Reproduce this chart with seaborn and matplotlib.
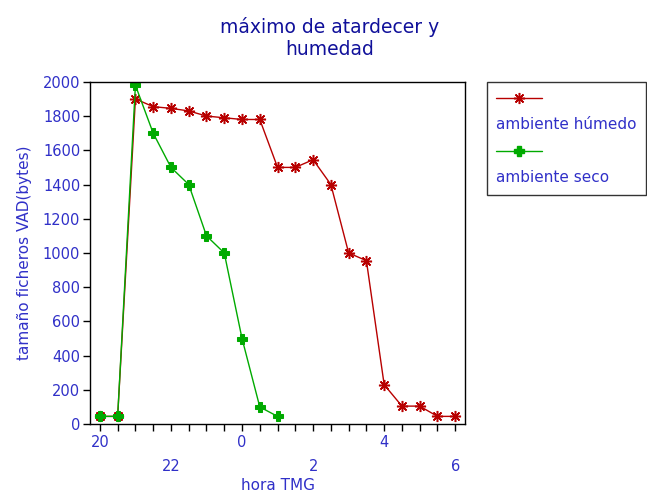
import numpy as np
import pandas as pd
import seaborn as sns
import matplotlib.pyplot as plt
from matplotlib.lines import Line2D

# Data (hours after 20:00 continue past 24)
hours = [20, 20.5, 21, 21.5, 22, 22.5, 23, 23.5, 24, 24.5, 25,
         25.5, 26, 26.5, 27, 27.5, 28, 28.5, 29, 29.5, 30]
humedo = [45, 45, 1900, 1855, 1845, 1830, 1800, 1790, 1780, 1780, 1500,
          1500, 1545, 1400, 1000, 955, 230, 105, 105, 45, 45]
seco_hours = [20, 20.5, 21, 21.5, 22, 22.5, 23, 23.5, 24, 24.5, 25]
seco = [45, 45, 1980, 1700, 1500, 1400, 1100, 1000, 500, 100, 45]
tick_hours = [20, 22, 24, 26, 28, 30]

df_h = pd.DataFrame({'hora': hours, 'bytes': humedo})
df_s = pd.DataFrame({'hora': seco_hours, 'bytes': seco})

sns.set_theme(style='ticks')
plt.rcParams['font.family'] = ['DejaVu Sans']

text_blue = '#3030c8'
title_blue = '#10109a'
red = '#b80000'
green = '#00aa00'
ast = (8, 2, 0)

fig = plt.figure(figsize=(6.47, 4.96), dpi=100)
ax = fig.add_axes([0.139, 0.145, 0.580, 0.690])

sns.lineplot(data=df_h, x='hora', y='bytes', ax=ax, color=red, lw=1.0,
             marker=ast, markersize=8, markeredgecolor=red,
             markeredgewidth=1.1, dashes=False)
sns.lineplot(data=df_s, x='hora', y='bytes', ax=ax, color=green, lw=1.0,
             marker='P', markersize=7, markeredgecolor=green,
             markerfacecolor=green, dashes=False)

ax.set_xlim(19.72, 30.28)
ax.set_ylim(0, 2000)
ax.set_yticks(np.arange(0, 2001, 200))
xt = np.arange(20, 30.01, 0.5)
ax.set_xticks(xt)
labels = []
for h in xt:
    if h in tick_hours:
        lab = str(int(h) % 24)
        if tick_hours.index(h) % 2 == 1:
            lab = '\n' + lab
        labels.append(lab)
    else:
        labels.append('')
ax.set_xticklabels(labels)
ax.tick_params(axis='both', colors='black', labelcolor=text_blue,
               length=5, width=1, labelsize=10.5, direction='out')
ax.tick_params(axis='x', pad=3)
ax.tick_params(axis='y', pad=2)
for t in ax.get_xticklabels():
    t.set_linespacing(1.75)
for s in ax.spines.values():
    s.set_visible(True)
    s.set_color('black')
    s.set_linewidth(1.0)

ax.set_xlabel('hora TMG', color=text_blue, fontsize=11, labelpad=3)
ax.set_ylabel('tamaño ficheros VAD(bytes)', color=text_blue, fontsize=11,
              labelpad=8)
fig.suptitle('máximo de atardecer y\nhumedad', color=title_blue,
             fontsize=13.5, x=0.51, y=0.965, linespacing=1.15)

blank = Line2D([], [], color='none')
handles = [
    Line2D([], [], color=red, lw=1.0, marker=ast, markersize=8,
           markeredgecolor=red, markeredgewidth=1.1),
    blank,
    Line2D([], [], color=green, lw=1.0, marker='P', markersize=7,
           markeredgecolor=green, markerfacecolor=green),
    blank,
]
leg = fig.legend(handles, ['', 'ambiente húmedo', '', 'ambiente seco'],
                 loc='upper left', bbox_to_anchor=(0.753, 0.835),
                 frameon=True, fancybox=False, edgecolor='black',
                 handlelength=3.0, handletextpad=-3.0, borderpad=0.6,
                 labelspacing=0.75, fontsize=11, labelcolor=text_blue,
                 borderaxespad=0)
leg.get_frame().set_linewidth(1.0)

fig.savefig('out.png', dpi=100)
